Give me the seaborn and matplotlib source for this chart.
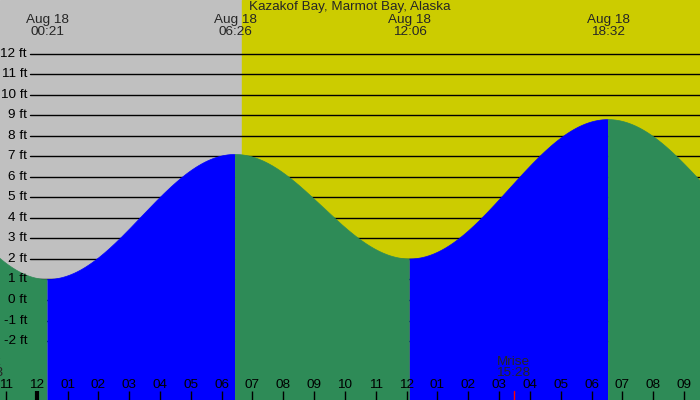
import numpy as np
import pandas as pd
import matplotlib
matplotlib.use("Agg")
import matplotlib.pyplot as plt
import seaborn as sns

# Tide extremes (hours after midnight Aug 18; first and last are off-screen)
extreme_hours = [-5.8, 0.35, 6.433, 12.1, 18.533, 24.9]
extreme_heights = [8.0, 1.0, 7.1, 2.0, 8.8, 2.2]
extreme_labels = ["", "00:21", "06:26", "12:06", "18:32", ""]

sunrise_hour = 6.65
moonrise_hour = 15.467
moonset_hour = -1.62
hour_ticks = list(range(-1, 22))
ft_levels = list(range(-2, 13))

title = "Kazakof Bay, Marmot Bay, Alaska"

sns.set_theme(style="white")
plt.rcParams['font.family'] = ['Liberation Sans', 'DejaVu Sans']
FS = 9.7

x_lo, x_hi = -1.190, 21.515
y_lo, y_hi = -4.878, 14.634

fig = plt.figure(figsize=(7, 4), dpi=100)
ax = fig.add_axes([0, 0, 1, 1])
ax.set_xlim(x_lo, x_hi)
ax.set_ylim(y_lo, y_hi)
ax.axis('off')

# sky: night / day
ax.axvspan(x_lo, sunrise_hour, color="#C0C0C0", zorder=0)
ax.axvspan(sunrise_hour, x_hi, color="#CCCC00", zorder=0)

# horizontal ft grid (under the water)
for ft in ft_levels:
    ax.plot([-0.217, x_hi], [ft, ft], color="black", lw=1.0, zorder=1)

# tide curve, cosine between extremes
for i in range(len(extreme_hours) - 1):
    t0, t1 = extreme_hours[i], extreme_hours[i + 1]
    v0, v1 = extreme_heights[i], extreme_heights[i + 1]
    t = np.linspace(t0, t1, 200)
    v = v0 + (v1 - v0) * (1 - np.cos(np.pi * (t - t0) / (t1 - t0))) / 2
    color = "#0000FF" if v1 > v0 else "#2E8B57"
    seg = pd.DataFrame({"t": t, "v": v})
    ax.fill_between(t, v, y_lo, facecolor=color, edgecolor="none",
                    alpha=1.0, zorder=10)
    sns.lineplot(data=seg, x="t", y="v", ax=ax, color=color, lw=0.5,
                 zorder=11)

# ft labels
ytr = ax.get_yaxis_transform()
for ft in ft_levels:
    ax.text(27 / 700, ft, f"{ft} ft", transform=ytr, ha="right", va="center",
            fontsize=FS, color="black", zorder=20)

# hour ticks along the bottom
xtr = ax.get_xaxis_transform()
for h in hour_ticks:
    lbl = f"{(h % 12) or 12:02d}"
    lw = 3 if h % 24 == 0 else 1
    ax.plot([h, h], [0, 0.0225], color="black", lw=lw, transform=xtr,
            solid_capstyle="butt", zorder=20)
    ax.text(h, 0.0375, lbl, transform=xtr, ha="center", va="center",
            fontsize=FS, color="black", zorder=20)

# moon
ax.plot([moonrise_hour] * 2, [0, 0.0225], color="red", lw=1, transform=xtr,
        zorder=20)
ax.text(moonrise_hour, 1 - 362 / 400, "Mrise", transform=xtr, ha="center",
        va="center", fontsize=FS, zorder=20)
ax.text(moonrise_hour, 1 - 373 / 400, "15:28", transform=xtr, ha="center",
        va="center", fontsize=FS, zorder=20)
ax.text(moonset_hour, 1 - 362 / 400, "Mset", transform=xtr, ha="center",
        va="center", fontsize=FS, zorder=20)
ax.text(moonset_hour, 1 - 373 / 400, "22:23", transform=xtr, ha="center",
        va="center", fontsize=FS, zorder=20)

# top labels
ax.text(0.5, 1 - 7 / 400, title, transform=ax.transAxes, ha="center",
        va="center", fontsize=FS, zorder=20)
for h, lbl in zip(extreme_hours, extreme_labels):
    if not lbl:
        continue
    ax.text(h, 1 - 20 / 400, "Aug 18", transform=xtr, ha="center",
            va="center", fontsize=FS, zorder=20)
    ax.text(h, 1 - 32 / 400, lbl, transform=xtr, ha="center",
            va="center", fontsize=FS, zorder=20)

fig.savefig("out.png", dpi=100)
